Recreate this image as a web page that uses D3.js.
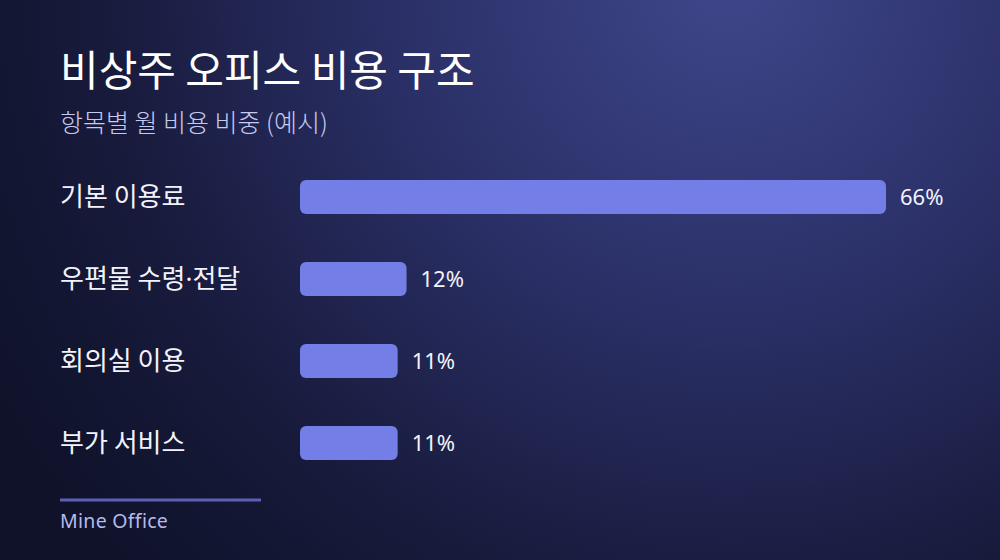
<!DOCTYPE html>
<html><head><meta charset="utf-8">
<script src="https://cdn.jsdelivr.net/npm/d3@7"></script>
<style>html,body{margin:0;padding:0;background:#12152e;}svg{display:block;}</style>
</head><body>
<script>
const categories = ["기본 이용료", "우편물 수령·전달", "회의실 이용", "부가 서비스"];
const values = [66, 12, 11, 11];
const title = "비상주 오피스 비용 구조";
const subtitle = "항목별 월 비용 비중 (예시)";
const source = "Mine Office";

const W = 1000, H = 560;
const kfont = "'Noto Sans CJK KR', 'Noto Sans', sans-serif";
const lfont = "'Noto Sans', 'Open Sans', sans-serif";
const svg = d3.select("body").append("svg").attr("width", W).attr("height", H);
const defs = svg.append("defs");
const rg = defs.append("radialGradient").attr("id", "bg")
  .attr("gradientUnits", "userSpaceOnUse").attr("cx", 730).attr("cy", -20).attr("r", 850);
rg.append("stop").attr("offset", "0%").attr("stop-color", "#3f478b");
rg.append("stop").attr("offset", "40%").attr("stop-color", "#2a2f66");
rg.append("stop").attr("offset", "75%").attr("stop-color", "#171a3a");
rg.append("stop").attr("offset", "100%").attr("stop-color", "#0f1229");
svg.append("rect").attr("width", W).attr("height", H).attr("fill", "url(#bg)");

svg.append("text").attr("x", 60).attr("y", 86).text(title)
  .attr("font-family", kfont).attr("font-size", 42).attr("font-weight", 400).attr("fill", "#ffffff");
svg.append("text").attr("x", 60).attr("y", 132).text(subtitle)
  .attr("font-family", kfont).attr("font-size", 25).attr("font-weight", 300).attr("fill", "#c4caf0");

const x = d3.scaleLinear().domain([0, d3.max(values)]).range([300, 886]);
const y = d3.scalePoint().domain(categories).range([197, 443]);

function addLabel(sel, str) {
  // render the middle dot with a Latin font so it stays narrow
  str.split(/(·)/).forEach(part => {
    if (!part) return;
    const t = sel.append("tspan").text(part);
    if (part === "·") t.attr("font-family", lfont);
  });
}

const g = svg.append("g");
categories.forEach((c, i) => {
  const cy = y(c);
  const lab = g.append("text").attr("x", 60).attr("y", cy).attr("dy", "0.35em")
    .attr("font-family", kfont).attr("font-size", 26).attr("fill", "#f2f3fb");
  addLabel(lab, c);
  g.append("rect").attr("x", x(0)).attr("y", cy - 17).attr("width", x(values[i]) - x(0)).attr("height", 34)
    .attr("rx", 6).attr("ry", 6).attr("fill", "#737ee6");
  g.append("text").attr("x", x(values[i]) + 14).attr("y", cy).attr("dy", "0.36em").text(values[i] + "%")
    .attr("font-family", lfont).attr("font-size", 22).attr("fill", "#f2f3fb");
});

svg.append("line").attr("x1", 60).attr("x2", 261).attr("y1", 500).attr("y2", 500)
  .attr("stroke", "#5b60b4").attr("stroke-width", 3);
svg.append("text").attr("x", 60).attr("y", 528).text(source)
  .attr("font-family", lfont).attr("font-size", 19.5).attr("letter-spacing", 0.3).attr("fill", "#b4bbee");
</script>
</body></html>
